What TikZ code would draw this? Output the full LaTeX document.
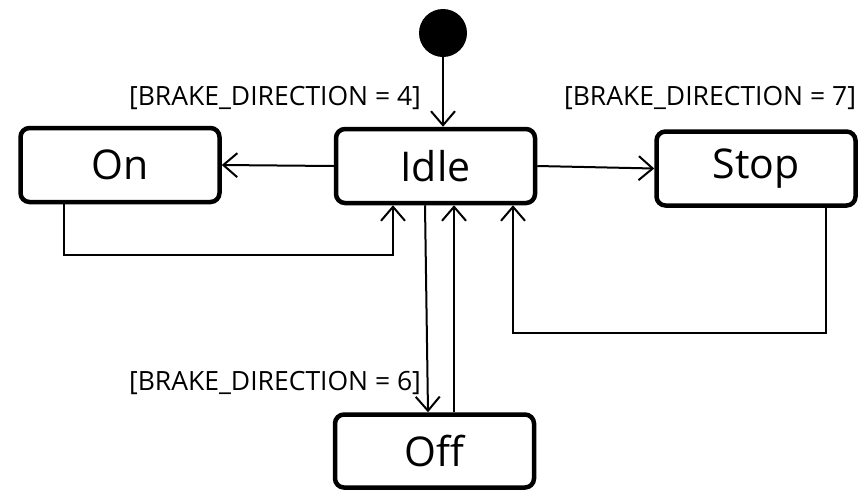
\documentclass[tikz,border=0pt]{standalone}
\usepackage{fontspec}
\setmainfont{Open Sans}
\usetikzlibrary{positioning,arrows.meta}

\begin{document}
\begin{tikzpicture}[
  x=1pt, y=-1pt,
  state/.style={draw, line width=4.5pt, rounded corners=9pt, minimum width=199pt,
                minimum height=74pt, font=\fontsize{41}{41}\selectfont},
  guard/.style={font=\fontsize{26.5}{26.5}\selectfont},
  arr/.style={-{Straight Barb[length=14pt,width=24pt]}, line width=2pt}
]
\useasboundingbox (0,0) rectangle (859,491);

% States
\node[circle, fill=black, minimum size=48pt, inner sep=0pt] (init) at (443,33) {};
\node[state] (on) at (120,165) {On};
\node[state] (idle) at (435.5,166) {Idle};
\node[state] (stop) at (756,168.5) {Stop};
\node[state, minimum height=73pt] (off) at (434.5,451) {Off};

% Guards
\node[guard] (g4) at (275,98) {[BRAKE\_DIRECTION = 4]};
\node[guard] (g7) at (710,98) {[BRAKE\_DIRECTION = 7]};
\node[guard] (g6) at (275,383) {[BRAKE\_DIRECTION = 6]};

% Transitions
\draw[arr] (init.south) -- (init.south |- idle.north);
\draw[arr] (idle.west) -- (on.east);
\draw[arr] (idle.east) -- (stop.west);
\draw[arr] (idle.south -| 425,0) -- (off.north -| 428,0);
\draw[arr] (off.north -| 454,0) -- (idle.south -| 454,0);

% Back to Idle
\draw[arr] (on.south -| 64,0) |- (393,255) -- (idle.south -| 393,0);
\draw[arr] (stop.south -| 826,0) |- (513,333) -- (idle.south -| 513,0);

\end{tikzpicture}
\end{document}
